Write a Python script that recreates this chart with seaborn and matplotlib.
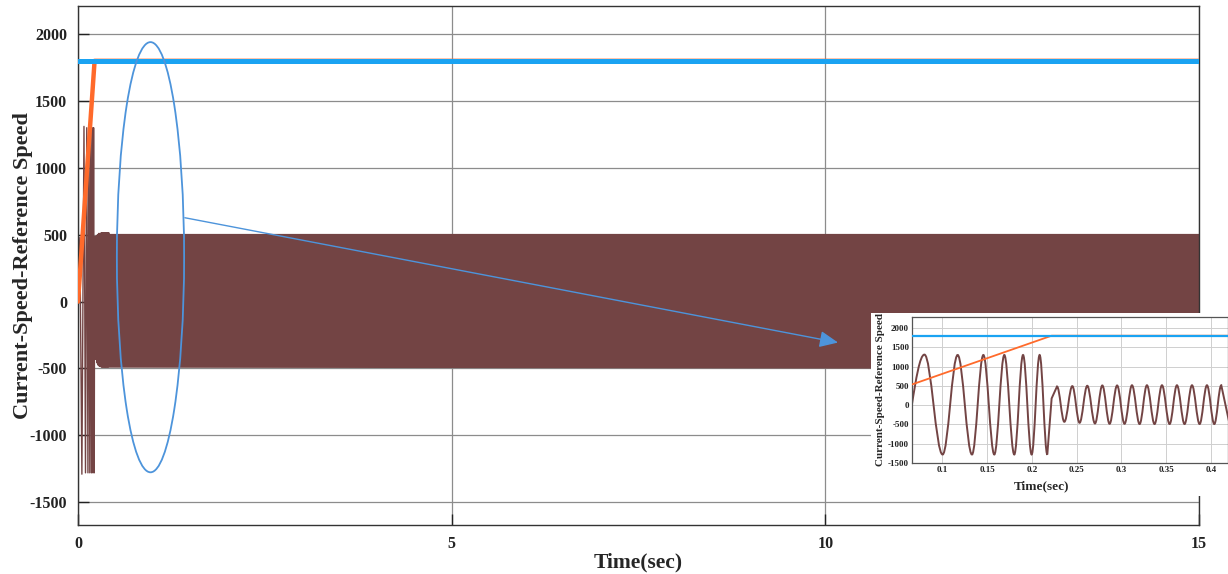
import numpy as np
import seaborn as sns
import matplotlib.pyplot as plt
from matplotlib.patches import Ellipse, Rectangle, PathPatch
from matplotlib.path import Path

# reference speed, ramp of the speed command, and the oscillating speed
ref_t = [0.0, 15.0]
ref_v = [1800, 1800]

ramp_t = [0.0, 0.222, 15.0]
ramp_v = [0, 1800, 1800]

# extrema of the speed signal (sec, rpm)
wave_t = [0.0, 0.025, 0.052, 0.0800, 0.1003, 0.1171, 0.1331, 0.1458, 0.1580,
          0.1692, 0.1803, 0.1901, 0.1997, 0.2086, 0.2172, 0.2220, 0.2280,
          0.2362, 0.2451, 0.2532, 0.2618, 0.2704, 0.2786, 0.2867, 0.2951,
          0.3034, 0.3117, 0.3202, 0.3284, 0.3369, 0.3452, 0.3537, 0.3619,
          0.3704, 0.3787, 0.3872, 0.3954, 0.4036, 0.4114, 0.4200]
wave_v = [0, 480, -1290, 1310, -1280, 1300, -1280, 1300, -1280,
          1300, -1280, 1300, -1280, 1300, -1280, 173, 484,
          -432, 493, -458, 502, -475, 510, -484, 510,
          -484, 515, -490, 515, -490, 515, -490, 515,
          -490, 515, -490, 515, -490, 515, -420]

# envelope of the steady 60 Hz ripple over the whole run
env_t = [0.222, 0.236, 0.30, 15.0]
env_hi = [484, 490, 510, 510]
env_lo = [-432, -432, -490, -500]

main_yticks = [-1500, -1000, -500, 0, 500, 1000, 1500, 2000]
main_xticks = [0, 5, 10, 15]
inset_xticks = [0.1, 0.15, 0.2, 0.25, 0.3, 0.35, 0.4]
inset_xlabels = ['0.1', '0.15', '0.2', '0.25', '0.3', '0.35', '0.4']

BLUE = '#1aa3f2'
ORANGE = '#ff6a2b'
BROWN = '#734444'
MARK = '#4d94db'

sns.set_theme(style='white')
plt.rcParams['font.family'] = ['Liberation Serif', 'DejaVu Serif']
plt.rcParams['font.weight'] = 'bold'
plt.rcParams['axes.unicode_minus'] = False


def smooth_wave(ts, vs):
    # half-cosine looking segments between extrema, straight lines elsewhere
    n = len(ts)

    def is_ext(i):
        return 0 < i < n - 1 and (vs[i] - vs[i - 1]) * (vs[i] - vs[i + 1]) > 0

    verts = [(ts[0], vs[0])]
    codes = [Path.MOVETO]
    for i in range(1, n):
        t0, v0, t1, v1 = ts[i - 1], vs[i - 1], ts[i], vs[i]
        if is_ext(i - 1) and is_ext(i):
            d = 0.364 * (t1 - t0)
            verts += [(t0 + d, v0), (t1 - d, v1), (t1, v1)]
            codes += [Path.CURVE4] * 3
        else:
            verts.append((t1, v1))
            codes.append(Path.LINETO)
    return Path(verts, codes)


fig = plt.figure(figsize=(12.28, 5.74), dpi=100)
ax = fig.add_axes([78 / 1228, 49 / 574, (1199 - 78) / 1228, (568 - 49) / 574])

ax.fill_between(env_t, env_lo, env_hi, color=BROWN, linewidth=0, zorder=2)
sns.lineplot(x=wave_t, y=wave_v, ax=ax, color=BROWN, linewidth=1.0,
             sort=False, estimator=None, zorder=2)
sns.lineplot(x=ramp_t, y=ramp_v, ax=ax, color=ORANGE, linewidth=3.2,
             sort=False, estimator=None, zorder=3)
sns.lineplot(x=ref_t, y=ref_v, ax=ax, color=BLUE, linewidth=3.6,
             sort=False, estimator=None, zorder=4)

ax.set_xlim(0, 15)
ax.set_ylim(-1670, 2210)
ax.set_xticks(main_xticks)
ax.set_yticks(main_yticks)
ax.grid(True, color='#8c8c8c', linewidth=0.9)
ax.set_axisbelow(True)
ax.tick_params(direction='in', length=8, width=1, labelsize=11.5, pad=8,
               left=True, bottom=True, colors='#222222')
for lab in ax.get_xticklabels() + ax.get_yticklabels():
    lab.set_fontweight('bold')
for sp in ax.spines.values():
    sp.set_color('#333333')
    sp.set_linewidth(1.0)
ax.set_xlabel('Time(sec)', fontsize=15.5, fontweight='bold')
ax.xaxis.set_label_coords(0.5, -0.052)
ax.set_ylabel('Current-Speed-Reference Speed', fontsize=16,
              fontweight='bold')
ax.yaxis.set_label_coords(-0.04, 0.5)

# highlight of the transient and the pointer to the zoom
ax.add_patch(Ellipse((0.97, 332), 0.9, 3216, fill=False, edgecolor=MARK,
                     linewidth=1.3, zorder=5))
ax.annotate('', xy=(10.17, -306), xytext=(1.43, 627),
            arrowprops=dict(arrowstyle='-|>,head_length=0.45,head_width=0.2',
                            mutation_scale=25, color=MARK, linewidth=1.0,
                            shrinkA=0, shrinkB=0), zorder=5)

# white card behind the zoomed view
fig.add_artist(Rectangle((871 / 1228, 78 / 574), 1 - 871 / 1228, 183 / 574,
                         transform=fig.transFigure, facecolor='white',
                         edgecolor='none', zorder=1))

ins = fig.add_axes([911.7 / 1228, 111 / 574, (1228 - 911.7) / 1228, 146 / 574])
ins.set_zorder(2)
sns.lineplot(x=ref_t, y=ref_v, ax=ins, color=BLUE, linewidth=1.6,
             sort=False, estimator=None, zorder=4)
sns.lineplot(x=ramp_t, y=ramp_v, ax=ins, color=ORANGE, linewidth=1.3,
             sort=False, estimator=None, zorder=3)
ins.add_patch(PathPatch(smooth_wave(wave_t, wave_v), fill=False,
                        edgecolor=BROWN, linewidth=1.4, zorder=2))
ins.set_xlim(0.0658, 0.4189)
ins.set_ylim(-1500, 2285)
ins.set_xticks(inset_xticks)
ins.set_xticklabels(inset_xlabels)
ins.set_yticks(main_yticks)
ins.grid(True, color='#cfcfcf', linewidth=0.7)
ins.tick_params(direction='in', length=0, labelsize=6.5, pad=2, colors='#222222')
for lab in ins.get_xticklabels() + ins.get_yticklabels():
    lab.set_fontweight('bold')
for sp in ins.spines.values():
    sp.set_color('#555555')
    sp.set_linewidth(0.9)
ins.set_xlabel('Time(sec)', fontsize=9.5, fontweight='bold', labelpad=0)
ins.xaxis.set_label_coords(0.412, -0.12)
ins.set_ylabel('Current-Speed-Reference Speed', fontsize=8,
               fontweight='bold', labelpad=2)

fig.savefig('out.png', dpi=100)
